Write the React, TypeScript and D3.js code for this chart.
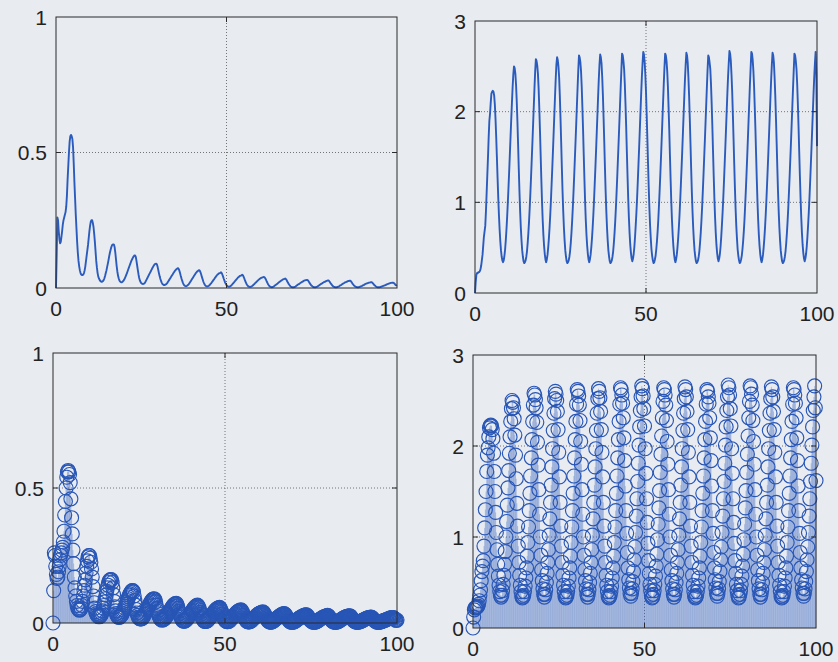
import React from "react";
import * as d3 from "d3";

// Left column series (decaying oscillation), 501 samples on 0..100
const seriesA: number[] = [
  0, 0.12, 0.26, 0.25, 0.21, 0.18, 0.165, 0.17, 0.19, 0.21,
  0.235, 0.25, 0.26, 0.27, 0.28, 0.3, 0.34, 0.4, 0.45, 0.5,
  0.54, 0.56, 0.565, 0.56, 0.55, 0.52, 0.46, 0.39, 0.33, 0.27,
  0.22, 0.17, 0.13, 0.1, 0.08, 0.065, 0.055, 0.05, 0.048, 0.048,
  0.05, 0.055, 0.065, 0.08, 0.1, 0.12, 0.14, 0.16, 0.185, 0.21,
  0.23, 0.245, 0.25, 0.25, 0.24, 0.225, 0.2, 0.17, 0.135, 0.1,
  0.075, 0.055, 0.042, 0.035, 0.03, 0.026, 0.024, 0.023, 0.024, 0.026,
  0.03, 0.036, 0.045, 0.055, 0.065, 0.078, 0.09, 0.103, 0.117, 0.13,
  0.14, 0.15, 0.157, 0.16, 0.161, 0.16, 0.15, 0.13, 0.105, 0.08,
  0.06, 0.045, 0.035, 0.028, 0.024, 0.022, 0.021, 0.022, 0.024, 0.027,
  0.031, 0.036, 0.042, 0.048, 0.055, 0.062, 0.069, 0.076, 0.083, 0.09,
  0.097, 0.103, 0.108, 0.113, 0.117, 0.12, 0.12, 0.115, 0.1, 0.083,
  0.066, 0.05, 0.037, 0.028, 0.022, 0.018, 0.016, 0.015, 0.015, 0.016,
  0.018, 0.022, 0.027, 0.032, 0.037, 0.042, 0.047, 0.052, 0.057, 0.062,
  0.067, 0.072, 0.077, 0.081, 0.085, 0.088, 0.089,
  0.09, 0.087, 0.078, 0.066, 0.054, 0.043, 0.034, 0.026, 0.02, 0.015, 0.013, 0.011, 0.011, 0.012, 0.013, 0.015,
  0.018, 0.022, 0.026, 0.03, 0.034, 0.038, 0.042, 0.046, 0.05, 0.054, 0.058, 0.062, 0.065, 0.068, 0.07, 0.072,
  0.073, 0.07, 0.063, 0.054, 0.044, 0.035, 0.027, 0.02, 0.014, 0.01, 0.008, 0.007, 0.007, 0.008, 0.01, 0.012,
  0.015, 0.019, 0.023, 0.027, 0.031, 0.035, 0.039, 0.043, 0.047, 0.051, 0.055, 0.058, 0.061, 0.063, 0.065,
  0.066, 0.063, 0.057, 0.049, 0.04, 0.032, 0.024, 0.018, 0.013, 0.009, 0.007, 0.006, 0.006, 0.007, 0.008, 0.01,
  0.013, 0.016, 0.019, 0.023, 0.026, 0.03, 0.033, 0.037, 0.04, 0.044, 0.047, 0.05, 0.052, 0.054, 0.055, 0.056,
  0.058, 0.055, 0.049, 0.042, 0.034, 0.027, 0.02, 0.015, 0.011, 0.008, 0.006, 0.005, 0.005, 0.006, 0.007,
  0.009, 0.012, 0.015, 0.018, 0.021, 0.024, 0.027, 0.03, 0.033, 0.036, 0.039, 0.041, 0.043, 0.045, 0.046, 0.047,
  0.049, 0.047, 0.042, 0.036, 0.029, 0.023, 0.017, 0.012, 0.009, 0.006, 0.005, 0.004, 0.004, 0.005, 0.006, 0.008,
  0.01, 0.013, 0.015, 0.018, 0.02, 0.023, 0.025, 0.028, 0.03, 0.032, 0.034, 0.036, 0.037, 0.038, 0.039, 0.04,
  0.041, 0.039, 0.035, 0.03, 0.024, 0.019, 0.014, 0.01, 0.007, 0.005, 0.004, 0.003, 0.003, 0.004, 0.005,
  0.007, 0.009, 0.011, 0.013, 0.015, 0.017, 0.019, 0.021, 0.023, 0.025, 0.027, 0.029, 0.03, 0.032, 0.033, 0.034,
  0.035, 0.033, 0.03, 0.025, 0.02, 0.016, 0.012, 0.009, 0.006, 0.004, 0.003, 0.003, 0.003, 0.003, 0.004, 0.005,
  0.007, 0.009, 0.011, 0.013, 0.014, 0.016, 0.018, 0.02, 0.021, 0.023, 0.024, 0.026, 0.027, 0.028, 0.029, 0.029,
  0.03, 0.029, 0.026, 0.022, 0.018, 0.014, 0.011, 0.008, 0.006, 0.004, 0.003, 0.003, 0.003, 0.003, 0.004,
  0.005, 0.007, 0.008, 0.01, 0.012, 0.014, 0.015, 0.017, 0.019, 0.02, 0.022, 0.023, 0.024, 0.025, 0.026, 0.027,
  0.028, 0.027, 0.024, 0.02, 0.016, 0.013, 0.01, 0.007, 0.005, 0.004, 0.003, 0.003, 0.003, 0.003, 0.004, 0.005,
  0.006, 0.008, 0.01, 0.011, 0.013, 0.015, 0.016, 0.018, 0.019, 0.021, 0.022, 0.023, 0.024, 0.025, 0.026, 0.026,
  0.027, 0.026, 0.023, 0.019, 0.015, 0.012, 0.009, 0.007, 0.005, 0.004, 0.003, 0.003, 0.003, 0.003, 0.004,
  0.005, 0.006, 0.007, 0.008, 0.01, 0.011, 0.012, 0.014, 0.015, 0.016, 0.017, 0.018, 0.019, 0.02, 0.02, 0.021,
  0.022, 0.021, 0.019, 0.016, 0.013, 0.01, 0.008, 0.006, 0.004, 0.003, 0.003, 0.003, 0.003, 0.003, 0.004, 0.005,
  0.006, 0.007, 0.008, 0.009, 0.01, 0.011, 0.012, 0.013, 0.014, 0.015, 0.016, 0.017, 0.018, 0.019, 0.019, 0.02,
  0.02, 0.019, 0.017, 0.014, 0.011, 0.01, 0.011,
];

// Right column series (periodic signal), 501 samples on 0..100
const seriesB: number[] = [
  0, 0.12, 0.2, 0.22, 0.22, 0.23, 0.23, 0.24, 0.26, 0.3,
  0.36, 0.42, 0.52, 0.62, 0.68, 0.74, 0.9, 1.1, 1.3, 1.5,
  1.72, 1.9, 1.98, 2.1, 2.2, 2.22,
  2.23, 2.22, 2.18, 2.08, 1.92, 1.72, 1.5, 1.27, 1.05, 0.86, 0.7, 0.57, 0.47, 0.4, 0.36, 0.34,
  0.36, 0.41, 0.48, 0.58, 0.7, 0.84, 1.0, 1.17, 1.35, 1.54, 1.73, 1.92, 2.1, 2.27, 2.41,
  2.5, 2.48, 2.42, 2.3, 2.12, 1.9, 1.64, 1.37, 1.12, 0.9, 0.72, 0.58, 0.47, 0.4, 0.35, 0.33,
  0.34, 0.36, 0.4, 0.46, 0.55, 0.66, 0.79, 0.94, 1.11, 1.29, 1.48, 1.67, 1.87, 2.07, 2.27, 2.45,
  2.58, 2.56, 2.51, 2.42, 2.26, 2.04, 1.79, 1.52, 1.25, 1.0, 0.8, 0.64, 0.52, 0.43, 0.37, 0.34,
  0.37, 0.42, 0.5, 0.6, 0.72, 0.86, 1.02, 1.2, 1.38, 1.57, 1.77, 1.97, 2.17, 2.36, 2.52,
  2.6, 2.57, 2.5, 2.38, 2.18, 1.93, 1.66, 1.38, 1.12, 0.9, 0.72, 0.58, 0.47, 0.4, 0.35, 0.33,
  0.34, 0.36, 0.4, 0.46, 0.55, 0.66, 0.79, 0.94, 1.11, 1.29, 1.48, 1.67, 1.87, 2.07, 2.27, 2.46,
  2.62, 2.6, 2.55, 2.45, 2.28, 2.05, 1.8, 1.52, 1.25, 1.0, 0.8, 0.64, 0.52, 0.43, 0.37, 0.34,
  0.37, 0.42, 0.5, 0.6, 0.72, 0.86, 1.02, 1.2, 1.38, 1.57, 1.77, 1.97, 2.17, 2.36, 2.52,
  2.63, 2.6, 2.53, 2.38, 2.18, 1.93, 1.66, 1.38, 1.12, 0.9, 0.72, 0.58, 0.47, 0.4, 0.35, 0.33,
  0.34, 0.36, 0.4, 0.46, 0.55, 0.66, 0.79, 0.94, 1.11, 1.29, 1.48, 1.67, 1.87, 2.07, 2.27, 2.46,
  2.64, 2.62, 2.56, 2.47, 2.31, 2.09, 1.84, 1.56, 1.29, 1.04, 0.83, 0.66, 0.53, 0.44, 0.38, 0.35,
  0.38, 0.43, 0.51, 0.62, 0.75, 0.89, 1.05, 1.23, 1.42, 1.61, 1.81, 2.01, 2.21, 2.39, 2.54,
  2.66, 2.63, 2.55, 2.41, 2.22, 1.97, 1.7, 1.42, 1.16, 0.93, 0.74, 0.6, 0.48, 0.41, 0.36, 0.33,
  0.34, 0.37, 0.41, 0.48, 0.57, 0.68, 0.81, 0.97, 1.14, 1.32, 1.51, 1.71, 1.91, 2.11, 2.31, 2.49,
  2.64, 2.62, 2.56, 2.45, 2.28, 2.05, 1.8, 1.52, 1.25, 1.0, 0.8, 0.64, 0.52, 0.43, 0.37, 0.34,
  0.37, 0.42, 0.5, 0.6, 0.72, 0.86, 1.02, 1.2, 1.38, 1.57, 1.77, 1.97, 2.17, 2.36, 2.52,
  2.65, 2.62, 2.54, 2.38, 2.18, 1.93, 1.66, 1.38, 1.12, 0.9, 0.72, 0.58, 0.47, 0.4, 0.35, 0.33,
  0.34, 0.36, 0.4, 0.46, 0.55, 0.66, 0.79, 0.94, 1.11, 1.29, 1.48, 1.67, 1.87, 2.07, 2.27, 2.46,
  2.62, 2.6, 2.54, 2.47, 2.31, 2.09, 1.84, 1.56, 1.29, 1.04, 0.83, 0.66, 0.53, 0.44, 0.38, 0.35,
  0.38, 0.43, 0.51, 0.62, 0.75, 0.89, 1.05, 1.23, 1.42, 1.61, 1.81, 2.01, 2.21, 2.39, 2.54,
  2.67, 2.64, 2.56, 2.41, 2.22, 1.97, 1.7, 1.42, 1.16, 0.93, 0.74, 0.6, 0.48, 0.41, 0.36, 0.33,
  0.34, 0.37, 0.41, 0.48, 0.57, 0.68, 0.81, 0.97, 1.14, 1.32, 1.51, 1.71, 1.91, 2.11, 2.31, 2.49,
  2.66, 2.64, 2.57, 2.45, 2.28, 2.05, 1.8, 1.52, 1.25, 1.0, 0.8, 0.64, 0.52, 0.43, 0.37, 0.34,
  0.37, 0.42, 0.5, 0.6, 0.72, 0.86, 1.02, 1.2, 1.38, 1.57, 1.77, 1.97, 2.17, 2.36, 2.52,
  2.65, 2.62, 2.54, 2.38, 2.18, 1.93, 1.66, 1.38, 1.12, 0.9, 0.72, 0.58, 0.47, 0.4, 0.35, 0.33,
  0.34, 0.36, 0.4, 0.46, 0.55, 0.66, 0.79, 0.94, 1.11, 1.29, 1.48, 1.67, 1.87, 2.07, 2.27, 2.46,
  2.64, 2.62, 2.56, 2.47, 2.31, 2.09, 1.84, 1.56, 1.29, 1.04, 0.83, 0.66, 0.53, 0.44, 0.38, 0.35,
  0.38, 0.43, 0.51, 0.62, 0.75, 0.89, 1.05, 1.23, 1.42, 1.61, 1.81, 2.01, 2.21, 2.39, 2.54,
  2.66, 2.42, 1.62,
];

const xTicks = [0, 50, 100];
const yTicksLeft = [0, 0.5, 1];
const yTicksRight = [0, 1, 2, 3];

const W = 838;
const H = 662;
const BLUE = "#2b5cbd";
const MARK = "#2856b6";
const BG = "#e8ebf0";
const FONT = "'Liberation Sans', Arial, Helvetica, sans-serif";

type Spec = {
  left: number; right: number; top: number; bottom: number;
  yMax: number; values: number[]; yTicks: number[]; kind: "line" | "stem";
};

const panels: Spec[] = [
  { left: 56, right: 397, top: 17, bottom: 288, yMax: 1, values: seriesA, yTicks: yTicksLeft, kind: "line" },
  { left: 475, right: 817, top: 21, bottom: 293, yMax: 3, values: seriesB, yTicks: yTicksRight, kind: "line" },
  { left: 53, right: 397, top: 353, bottom: 623, yMax: 1, values: seriesA, yTicks: yTicksLeft, kind: "stem" },
  { left: 473, right: 816, top: 355, bottom: 628, yMax: 3, values: seriesB, yTicks: yTicksRight, kind: "stem" },
];

function Panel({ s }: { s: Spec }) {
  const x = d3.scaleLinear().domain([0, 100]).range([s.left, s.right]);
  const y = d3.scaleLinear().domain([0, s.yMax]).range([s.bottom, s.top]);
  const step = 100 / (s.values.length - 1);
  const pts: [number, number][] = s.values.map((v, i) => [i * step, v]);
  const line = d3.line<[number, number]>().x((d) => x(d[0])).y((d) => y(d[1]));
  const tickLen = 5;
  const fs = 21;
  return (
    <g>
      {xTicks.slice(1, -1).map((t) => (
        <line key={"gx" + t} x1={x(t)} x2={x(t)} y1={s.top} y2={s.bottom}
          stroke="#555" strokeWidth={0.8} strokeDasharray="1 2" />
      ))}
      {s.yTicks.slice(1, -1).map((t) => (
        <line key={"gy" + t} x1={s.left} x2={s.right} y1={y(t)} y2={y(t)}
          stroke="#555" strokeWidth={0.8} strokeDasharray="1 2" />
      ))}
      {s.kind === "line" ? (
        <path d={line(pts) || ""} fill="none" stroke={BLUE} strokeWidth={1.9} strokeLinejoin="round" />
      ) : (
        <g>
          {pts.map((d, i) => (
            <line key={"s" + i} x1={x(d[0])} x2={x(d[0])} y1={y(0)} y2={y(d[1])}
              stroke={BLUE} strokeWidth={0.5} strokeOpacity={0.6} />
          ))}
          {pts.map((d, i) => (
            <circle key={"c" + i} cx={x(d[0])} cy={y(d[1])} r={7}
              fill="none" stroke={MARK} strokeWidth={1.15} />
          ))}
        </g>
      )}
      <rect x={s.left} y={s.top} width={s.right - s.left} height={s.bottom - s.top}
        fill="none" stroke="#2a2a2a" strokeWidth={1} />
      {xTicks.slice(1, -1).map((t) => (
        <g key={"tx" + t}>
          <line x1={x(t)} x2={x(t)} y1={s.bottom} y2={s.bottom - tickLen} stroke="#2a2a2a" />
          <line x1={x(t)} x2={x(t)} y1={s.top} y2={s.top + tickLen} stroke="#2a2a2a" />
        </g>
      ))}
      {s.yTicks.slice(1, -1).map((t) => (
        <g key={"ty" + t}>
          <line x1={s.left} x2={s.left + tickLen} y1={y(t)} y2={y(t)} stroke="#2a2a2a" />
          <line x1={s.right} x2={s.right - tickLen} y1={y(t)} y2={y(t)} stroke="#2a2a2a" />
        </g>
      ))}
      {s.yTicks.map((t) => (
        <text key={"ly" + t} x={s.left - 9} y={y(t)} dy="0.36em" textAnchor="end"
          fontSize={fs} fontFamily={FONT} fill="#222">{String(t)}</text>
      ))}
      {xTicks.map((t) => (
        <text key={"lx" + t} x={x(t)} y={s.bottom + 28} textAnchor="middle"
          fontSize={fs} fontFamily={FONT} fill="#222">{String(t)}</text>
      ))}
    </g>
  );
}

export default function App() {
  return (
    <svg width={W} height={H} style={{ position: "absolute", left: 0, top: 0 }}>
      <rect x={0} y={0} width={W} height={H} fill={BG} />
      {panels.map((s, i) => (
        <Panel key={i} s={s} />
      ))}
    </svg>
  );
}
